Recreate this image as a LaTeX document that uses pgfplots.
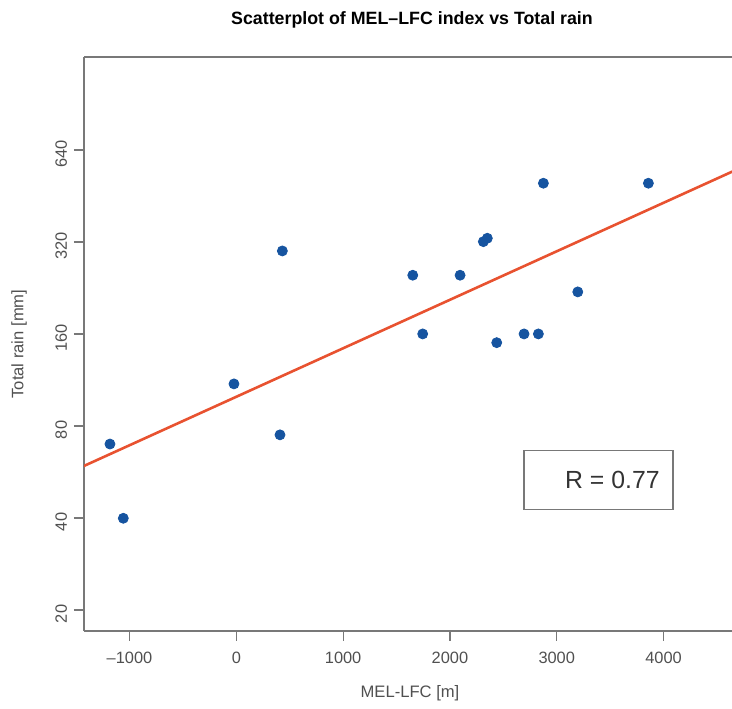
\documentclass[border=0pt]{standalone}
\usepackage{fontspec}
\setmainfont{Liberation Sans}
\usepackage{pgfplots}
\pgfplotsset{compat=1.18}

\definecolor{ptblue}{RGB}{22,84,160}
\definecolor{fitred}{RGB}{232,82,48}
\definecolor{axgray}{RGB}{120,120,120}
\definecolor{txtgray}{RGB}{80,80,80}

\begin{document}
\begin{tikzpicture}[x=1pt,y=1pt]
\path[use as bounding box] (0,0) rectangle (366,354);
\begin{axis}[
  at={(42pt,38.65pt)}, anchor=south west,
  scale only axis, width=324pt, height=287pt,
  xmin=-1426, xmax=4641,
  ymode=log, log basis y=2, ymin=17.1, ymax=1292,
  axis lines*=left,
  axis line style={axgray, line width=0.9pt},
  tick align=outside, major tick length=5pt,
  tick style={axgray, line width=0.6pt},
  xtick={-1000,0,1000,2000,3000,4000},
  xticklabels={\textendash1000,0,1000,2000,3000,4000},
  ytick={20,40,80,160,320,640},
  yticklabels={20,40,80,160,320,640},
  /pgf/number format/assume math mode=true,
  ticklabel style={font=\fontsize{8.2}{10}\selectfont, text=txtgray},
  xticklabel style={yshift=-2pt},
  yticklabel style={rotate=90, anchor=south, xshift=-2pt},
  clip=true,
]
% fitted regression line (straight on the log scale)
\addplot[fitred, line width=1.3pt, no marks] coordinates {(-1500,57.6) (4700,555)};
% observations
\addplot[only marks, mark=*, mark size=2.5pt, color=ptblue, mark options={draw=ptblue, fill=ptblue}]
coordinates {
(-1183,69.8) (-1058,39.9) (-22,109.8) (409,74.8) (431,299)
(1652,249) (2095,249) (2313,320.7) (2350,329) (2875,498)
(1745,160) (2438,149.8) (2694,160) (2828,160) (3197,219.6) (3858,498)
};
% frame top edge
\draw[axgray, line width=0.9pt] (rel axis cs:0,1) -- (rel axis cs:1,1);
% correlation box
\node[draw=axgray, line width=0.7pt, minimum width=74.5pt, minimum height=29.5pt, inner sep=0pt] at (axis cs:3391,53.3) {};
\node[anchor=east, inner sep=0pt, text=black!80, font=\fontsize{12.4}{14}\selectfont] at (axis cs:3967,53.3) {R = 0.77};
\end{axis}
\node[font=\bfseries\fontsize{8.9}{11}\selectfont] at (206,344) {Scatterplot of MEL\textendash LFC index vs Total rain};
\node[font=\fontsize{8.3}{10}\selectfont, text=txtgray] at (205,7.5) {MEL-LFC [m]};
\node[font=\fontsize{8.3}{10}\selectfont, text=txtgray, rotate=90] at (9.5,182) {Total rain [mm]};
\end{tikzpicture}
\end{document}
